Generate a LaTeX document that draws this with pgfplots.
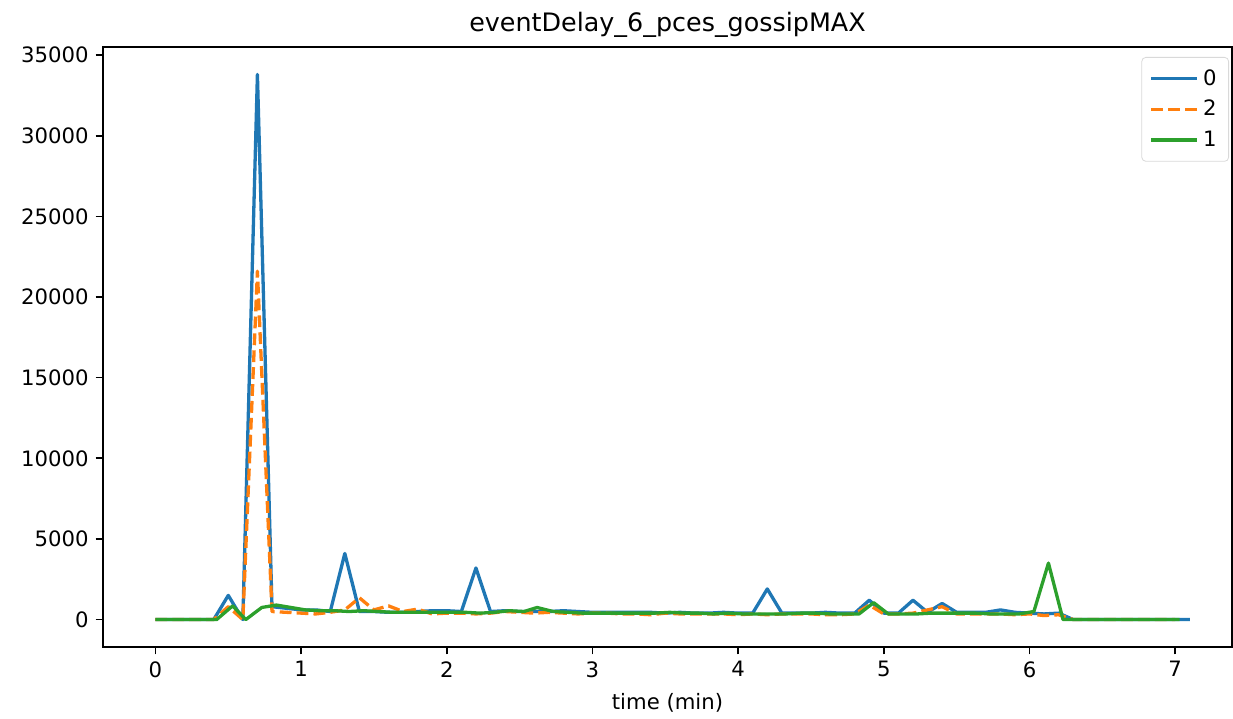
\documentclass[border=0pt]{standalone}
\usepackage{fontspec}
\setmainfont{DejaVu Sans}
\usepackage{pgfplots}
\pgfplotsset{compat=1.18}
\definecolor{tabblue}{HTML}{1F77B4}
\definecolor{taborange}{HTML}{FF7F0E}
\definecolor{tabgreen}{HTML}{2CA02C}
\begin{document}
\begin{tikzpicture}
\begin{axis}[
  scale only axis,
  width=564.5pt, height=300pt,
  xmin=-0.36, xmax=7.39,
  ymin=-1700, ymax=35500,
  xtick={0,1,2,3,4,5,6,7},
  ytick={0,5000,10000,15000,20000,25000,30000,35000},
  scaled ticks=false,
  /pgf/number format/1000 sep={},
  /pgf/number format/assume math mode=true,
  tick align=outside,
  tick style={black, line width=0.85pt},
  major tick length=3.7pt,
  xtick pos=bottom, ytick pos=left,
  axis line style={line width=0.85pt},
  ticklabel style={font=\fontsize{10.6}{12}\selectfont},
  title={eventDelay\_6\_pces\_gossipMAX},
  title style={font=\fontsize{12.7}{15}\selectfont, yshift=-5pt},
  xlabel={time (min)},
  xlabel style={font=\fontsize{10.6}{12}\selectfont, yshift=-1pt},
  legend cell align=left,
  legend style={at={(1,1)}, anchor=north east, xshift=-1.5pt, yshift=-5pt,
    draw=black!15, rounded corners=2pt, font=\fontsize{10.6}{12}\selectfont,
    row sep=2pt, inner xsep=4pt, inner ysep=4pt},
  legend image code/.code={\draw[#1] (0pt,0pt) -- (23pt,0pt);},
  every axis plot/.append style={line width=1.65pt, line join=round},
]
\addplot[tabblue] coordinates {
(0.0,0) (0.1,0) (0.2,0) (0.3,0) (0.4,0) (0.5,1500) (0.6,0) (0.7,33800) (0.8,800) (0.9,700)
(1.0,600) (1.1,600) (1.2,500) (1.3,4100) (1.4,500) (1.5,500) (1.6,450) (1.7,450) (1.8,500) (1.9,550)
(2.0,550) (2.1,500) (2.2,3200) (2.3,500) (2.4,550) (2.5,500) (2.6,500) (2.7,500) (2.8,550) (2.9,500)
(3.0,450) (3.1,450) (3.2,450) (3.3,450) (3.4,450) (3.5,400) (3.6,450) (3.7,400) (3.8,400) (3.9,450)
(4.0,400) (4.1,400) (4.2,1900) (4.3,400) (4.4,400) (4.5,400) (4.6,450) (4.7,400) (4.8,400) (4.9,1200)
(5.0,400) (5.1,400) (5.2,1200) (5.3,450) (5.4,1000) (5.5,450) (5.6,450) (5.7,450) (5.8,600) (5.9,450)
(6.0,400) (6.1,350) (6.2,400) (6.3,0) (6.4,0) (6.5,0) (6.6,0) (6.7,0) (6.8,0) (6.9,0)
(7.0,0) (7.1,0)
};
\addlegendentry{0}
\addplot[taborange, dash pattern=on 5.9pt off 2.55pt] coordinates {
(0.0,0) (0.1,0) (0.2,0) (0.3,0) (0.4,0) (0.5,800) (0.6,0) (0.7,21600) (0.8,500) (0.9,450)
(1.0,400) (1.1,350) (1.2,450) (1.3,600) (1.4,1350) (1.5,600) (1.6,850) (1.7,500) (1.8,650) (1.9,350)
(2.0,400) (2.1,400) (2.2,350) (2.3,400) (2.4,500) (2.5,450) (2.6,400) (2.7,450) (2.8,400) (2.9,350)
(3.0,400) (3.1,400) (3.2,350) (3.3,350) (3.4,300) (3.5,400) (3.6,350) (3.7,350) (3.8,350) (3.9,350)
(4.0,300) (4.1,350) (4.2,300) (4.3,350) (4.4,350) (4.5,350) (4.6,300) (4.7,300) (4.8,350) (4.9,900)
(5.0,350) (5.1,350) (5.2,400) (5.3,600) (5.4,800) (5.5,350) (5.6,350) (5.7,350) (5.8,350) (5.9,300)
(6.0,350) (6.1,250) (6.2,300) (6.3,0) (6.4,0) (6.5,0) (6.6,0) (6.7,0) (6.8,0) (6.9,0)
(7.0,0)
};
\addlegendentry{2}
\addplot[tabgreen] coordinates {
(0.0,0) (0.1,0) (0.2,0) (0.3,0) (0.42,0) (0.53,850) (0.62,0) (0.73,750) (0.83,900) (0.93,750)
(1.03,600) (1.13,550) (1.23,550) (1.33,500) (1.43,550) (1.53,500) (1.63,450) (1.73,450) (1.83,450) (1.93,450)
(2.03,450) (2.13,450) (2.23,400) (2.33,450) (2.43,550) (2.53,500) (2.62,750) (2.73,500) (2.83,450) (2.93,400)
(3.03,400) (3.13,400) (3.23,400) (3.33,400) (3.43,400) (3.53,450) (3.63,400) (3.73,400) (3.83,350) (3.93,400)
(4.03,350) (4.13,350) (4.23,350) (4.33,350) (4.43,400) (4.53,400) (4.63,350) (4.73,350) (4.83,350) (4.93,1050)
(5.03,350) (5.13,350) (5.23,350) (5.33,400) (5.43,400) (5.53,400) (5.63,400) (5.73,350) (5.83,350) (5.93,350)
(6.03,500) (6.13,3500) (6.23,0) (6.33,0) (6.43,0) (6.53,0) (6.63,0) (6.73,0) (6.83,0) (6.93,0)
(7.03,0)
};
\addlegendentry{1}
\end{axis}
\path (current axis.south west) ++(-51.5pt,-34.5pt);
\path (current axis.north east) ++(0.5pt,23.5pt);
\end{tikzpicture}
\end{document}
